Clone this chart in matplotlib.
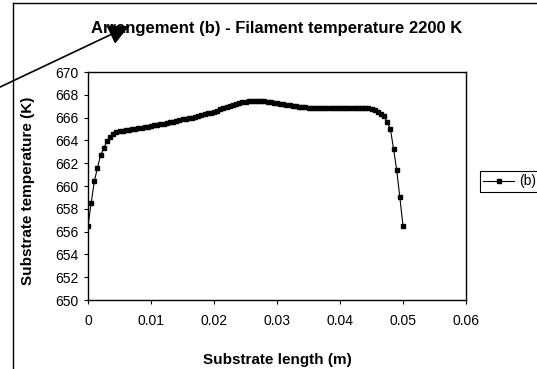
import matplotlib
matplotlib.use("Agg")
import matplotlib.pyplot as plt
from matplotlib.lines import Line2D

plt.rcParams['font.family'] = ['Liberation Sans', 'DejaVu Sans']

# substrate position (m), sampled every 0.5 mm
length = [
    0.0000, 0.0005, 0.0010, 0.0015, 0.0020, 0.0025, 0.0030, 0.0035, 0.0040, 0.0045,
    0.0050, 0.0055, 0.0060, 0.0065, 0.0070, 0.0075, 0.0080, 0.0085, 0.0090, 0.0095,
    0.0100, 0.0105, 0.0110, 0.0115, 0.0120, 0.0125, 0.0130, 0.0135, 0.0140, 0.0145,
    0.0150, 0.0155, 0.0160, 0.0165, 0.0170, 0.0175, 0.0180, 0.0185, 0.0190, 0.0195,
    0.0200, 0.0205, 0.0210, 0.0215, 0.0220, 0.0225, 0.0230, 0.0235, 0.0240, 0.0245,
    0.0250, 0.0255, 0.0260, 0.0265, 0.0270, 0.0275, 0.0280, 0.0285, 0.0290, 0.0295,
    0.0300, 0.0305, 0.0310, 0.0315, 0.0320, 0.0325, 0.0330, 0.0335, 0.0340, 0.0345,
    0.0350, 0.0355, 0.0360, 0.0365, 0.0370, 0.0375, 0.0380, 0.0385, 0.0390, 0.0395,
    0.0400, 0.0405, 0.0410, 0.0415, 0.0420, 0.0425, 0.0430, 0.0435, 0.0440, 0.0445,
    0.0450, 0.0455, 0.0460, 0.0465, 0.0470, 0.0475, 0.0480, 0.0485, 0.0490, 0.0495,
    0.0500,
]

# substrate temperature (K), arrangement (b)
temp_b = [
    656.5, 658.5, 660.4, 661.6, 662.7, 663.3, 663.95, 664.3, 664.55, 664.7,
    664.8, 664.85, 664.9, 664.95, 665.0, 665.02, 665.05, 665.1, 665.15, 665.2,
    665.28, 665.32, 665.37, 665.42, 665.48, 665.53, 665.6, 665.65, 665.72, 665.78,
    665.85, 665.9, 665.95, 666.0, 666.05, 666.12, 666.2, 666.28, 666.36, 666.44,
    666.52, 666.62, 666.72, 666.82, 666.92, 667.02, 667.12, 667.2, 667.28, 667.34,
    667.39, 667.43, 667.46, 667.47, 667.47, 667.45, 667.42, 667.38, 667.34, 667.3,
    667.26, 667.21, 667.16, 667.11, 667.07, 667.03, 667.0, 666.96, 666.93, 666.9,
    666.87, 666.85, 666.83, 666.82, 666.81, 666.8, 666.8, 666.8, 666.8, 666.8,
    666.8, 666.8, 666.8, 666.8, 666.8, 666.8, 666.8, 666.8, 666.8, 666.8,
    666.78, 666.7, 666.5, 666.3, 666.1, 665.6, 665.0, 663.25, 661.4, 659.0,
    656.5,
]

xticks = [0, 0.01, 0.02, 0.03, 0.04, 0.05, 0.06]
xtick_labels = ['0', '0.01', '0.02', '0.03', '0.04', '0.05', '0.06']
yticks = [650, 652, 654, 656, 658, 660, 662, 664, 666, 668, 670]

W, H = 537, 369
fig = plt.figure(figsize=(W / 100, H / 100), dpi=100)
ax = fig.add_axes([88 / W, 1 - 300 / H, 378 / W, 228 / H])

line, = ax.plot(length, temp_b, color='black', lw=0.8, marker='s',
                markersize=3.4, label='(b)')

ax.set_xlim(0, 0.06)
ax.set_ylim(650, 670)
ax.set_xticks(xticks)
ax.set_xticklabels(xtick_labels)
ax.set_yticks(yticks)
ax.tick_params(direction='out', length=3, width=0.8, labelsize=10)
ax.tick_params(axis='x', pad=7)
ax.tick_params(axis='y', pad=4)
for s in ax.spines.values():
    s.set_linewidth(1.0)

ax.set_xlabel('Substrate length (m)', fontsize=11, fontweight='bold', va='center')
ax.xaxis.set_label_coords(0.5, -0.263)
ax.set_ylabel('Substrate temperature (K)', fontsize=11, fontweight='bold', va='center')
ax.yaxis.set_label_coords(-0.159, 0.48)

fig.text(277 / W, 1 - 29 / H, 'Arrangement (b) - Filament temperature 2200 K',
         fontsize=12, fontweight='bold', ha='center', va='center', zorder=3)

leg = fig.legend(handles=[line], loc='upper left',
                 bbox_to_anchor=(480 / W, 1 - 171 / H), borderaxespad=0,
                 fancybox=False, edgecolor='black', framealpha=1,
                 fontsize=10, handlelength=2.2, borderpad=0.25, handletextpad=0.4)
leg.get_frame().set_linewidth(0.8)

# outer chart border (partly cut off)
fig.add_artist(Line2D([13 / W, 13 / W], [0, 1 - 3 / H], color='black', lw=1))
fig.add_artist(Line2D([13 / W, 1], [1 - 3 / H, 1 - 3 / H], color='black', lw=1))

# stray arrow pointing at the title
arrow = plt.Annotation('', xy=(129 / W, 1 - 26 / H), xycoords='figure fraction',
                       xytext=(-2 / W, 1 - 88 / H), textcoords='figure fraction',
                       arrowprops=dict(arrowstyle='-|>,head_length=0.9,head_width=0.45',
                                       color='black', lw=1.2, mutation_scale=14,
                                       shrinkA=0, shrinkB=0))
arrow.set_zorder(5)
fig.add_artist(arrow)

fig.savefig('out.png', dpi=100)
